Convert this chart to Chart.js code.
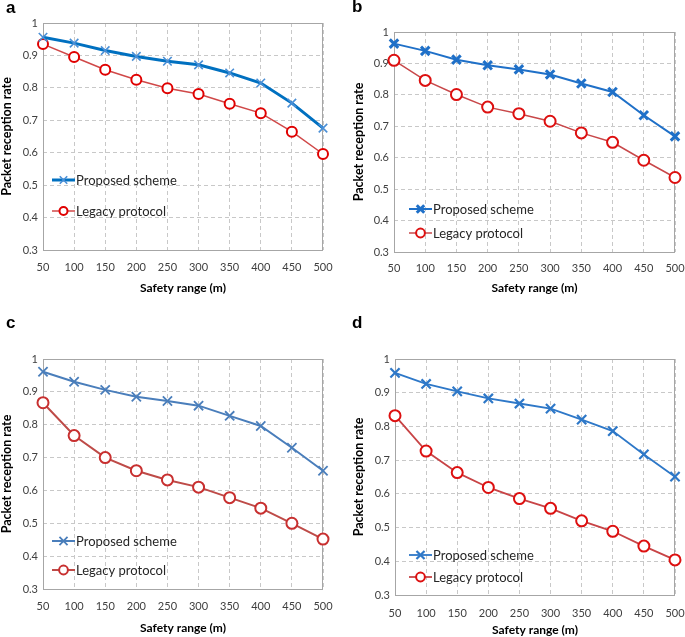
<!DOCTYPE html>
<html><head><meta charset="utf-8">
<script src="https://cdn.jsdelivr.net/npm/chart.js@4.4.0/dist/chart.umd.min.js"></script>
<style>
body{margin:0;width:685px;height:637px;background:#fff;position:relative;overflow:hidden}
.p{position:absolute}
.p canvas{display:block}
.lbl{position:absolute;font:bold 17px "Liberation Sans",Arial,sans-serif;line-height:17px;color:#000}
</style></head><body>
<div class="p" style="left:0px;top:0px"><canvas id="ca" width="342" height="318"></canvas></div>
<div class="p" style="left:342px;top:0px"><canvas id="cb" width="343" height="318"></canvas></div>
<div class="p" style="left:0px;top:318px"><canvas id="cc" width="342" height="319"></canvas></div>
<div class="p" style="left:342px;top:318px"><canvas id="cd" width="343" height="319"></canvas></div>
<div class="lbl" style="left:6px;top:-1px">a</div>
<div class="lbl" style="left:352px;top:-2px">b</div>
<div class="lbl" style="left:6px;top:314px">c</div>
<div class="lbl" style="left:352px;top:314px">d</div>
<script>
// ---- data ----
const xLabels = ['50','100','150','200','250','300','350','400','450','500'];
const yTickLabels = ['0.3','0.4','0.5','0.6','0.7','0.8','0.9','1'];
const seriesNames = ['Proposed scheme','Legacy protocol'];
const xTitle = 'Safety range (m)';
const yTitle = 'Packet reception rate';

const proposedA = [0.956,0.938,0.915,0.897,0.882,0.871,0.846,0.815,0.753,0.676];
const legacyA   = [0.935,0.895,0.856,0.825,0.799,0.781,0.751,0.722,0.665,0.596];
const proposedB = [0.963,0.940,0.912,0.894,0.881,0.865,0.836,0.809,0.735,0.668];
const legacyB   = [0.910,0.846,0.801,0.761,0.740,0.716,0.679,0.649,0.592,0.537];
const proposedC = [0.961,0.931,0.906,0.885,0.872,0.858,0.827,0.796,0.730,0.660];
const legacyC   = [0.867,0.767,0.700,0.660,0.632,0.610,0.578,0.546,0.500,0.452];
const proposedD = [0.959,0.926,0.904,0.883,0.868,0.853,0.820,0.786,0.717,0.651];
const legacyD   = [0.832,0.727,0.663,0.619,0.586,0.557,0.520,0.489,0.445,0.404];

// ---- layout / style ----
const FONT = 'Lato, "Liberation Sans", sans-serif';
const panels = [
  {id:'ca', w:342, h:318, L:43, R:323, T:23, B:250, yTitleC:7, xTickC:267, xTitleC:288,
   leg:{x:9, y1:-70, y2:-39},
   p:{data:proposedA, line:'#0070C0', mark:'#4A8FD6', lw:3, mw:1.6, r:6},
   l:{data:legacyA, line:'#D04848', mark:'#E00000', lw:1.5, mw:2, r:5}},
  {id:'cb', w:343, h:318, L:52, R:333, T:32, B:252, yTitleC:17, xTickC:268, xTitleC:288,
   leg:{x:15, y1:-43, y2:-19},
   p:{data:proposedB, line:'#1F70C8', mark:'#1F70C8', lw:2, mw:3, r:6},
   l:{data:legacyB, line:'#C8484A', mark:'#DD1010', lw:1.5, mw:2, r:5.5}},
  {id:'cc', w:342, h:319, L:43, R:323, T:41, B:271, yTitleC:7, xTickC:288, xTitleC:310,
   leg:{x:9, y1:-48, y2:-19},
   p:{data:proposedC, line:'#4A7EBB', mark:'#4A7EBB', lw:2, mw:1.8, r:6.5},
   l:{data:legacyC, line:'#BE4B48', mark:'#C83030', lw:2, mw:2, r:5.5}},
  {id:'cd', w:343, h:319, L:53, R:333, T:41, B:277, yTitleC:17, xTickC:295, xTitleC:312,
   leg:{x:14, y1:-40, y2:-18},
   p:{data:proposedD, line:'#2E78C8', mark:'#2E78C8', lw:1.8, mw:2.2, r:6.5},
   l:{data:legacyD, line:'#C84446', mark:'#DD1010', lw:1.8, mw:2, r:5.5}}
];

function drawMarker(ctx, style, x, y, r, color, bw){
  ctx.save();
  ctx.strokeStyle = color; ctx.lineWidth = bw;
  ctx.beginPath();
  if (style === 'crossRot'){
    const d = r*0.62;
    ctx.moveTo(x-d,y-d); ctx.lineTo(x+d,y+d);
    ctx.moveTo(x+d,y-d); ctx.lineTo(x-d,y+d);
    ctx.stroke();
  } else {
    ctx.fillStyle = '#fff';
    ctx.arc(x,y,r*0.8,0,Math.PI*2);
    ctx.fill(); ctx.stroke();
  }
  ctx.restore();
}

panels.forEach(P => {
  const frame = {
    id:'frame',
    beforeDatasetsDraw(chart){
      const a = chart.chartArea, ctx = chart.ctx;
      ctx.save();
      ctx.strokeStyle = '#A6A6A6'; ctx.lineWidth = 1;
      ctx.strokeRect(Math.round(a.left)+0.5, Math.round(a.top)+0.5,
                     Math.round(a.right-a.left)-1, Math.round(a.bottom-a.top));
      ctx.restore();
    }
  };
  const legend = {
    id:'insideLegend',
    afterDatasetsDraw(chart){
      const a = chart.chartArea, ctx = chart.ctx;
      const ys = [a.bottom + P.leg.y1, a.bottom + P.leg.y2];
      chart.data.datasets.forEach((ds,i) => {
        const x0 = a.left + P.leg.x, y = ys[i], len = 23;
        ctx.save();
        ctx.strokeStyle = ds.borderColor; ctx.lineWidth = ds.borderWidth;
        ctx.beginPath(); ctx.moveTo(x0,y); ctx.lineTo(x0+len,y); ctx.stroke();
        ctx.restore();
        drawMarker(ctx, ds.pointStyle, x0+len/2, y, ds.pointRadius, ds.pointBorderColor, ds.pointBorderWidth);
        ctx.save();
        ctx.fillStyle = '#262626';
        ctx.font = '13px ' + FONT;
        ctx.textBaseline = 'middle'; ctx.textAlign = 'left';
        ctx.fillText(ds.label, x0+len+1, y+0.5);
        ctx.restore();
      });
    }
  };
  const mkDs = (label, s, style) => ({
    label, data:s.data, borderColor:s.line, borderWidth:s.lw,
    pointStyle:style, pointRadius:s.r, pointHoverRadius:s.r,
    pointBorderColor:s.mark, pointBorderWidth:s.mw,
    pointBackgroundColor: style==='circle' ? '#ffffff' : s.mark,
    tension:0, fill:false
  });
  new Chart(document.getElementById(P.id), {
    type:'line',
    data:{ labels:xLabels, datasets:[ mkDs(seriesNames[0], P.p, 'crossRot'), mkDs(seriesNames[1], P.l, 'circle') ] },
    options:{
      responsive:false, animation:false, devicePixelRatio:1,
      layout:{padding:{left:0, top:P.T, right:P.w-P.R, bottom:0}},
      plugins:{legend:{display:false}, tooltip:{enabled:false}},
      scales:{
        x:{
          type:'category', offset:false,
          grid:{color:'#C8C8C8', lineWidth:1, drawTicks:false},
          border:{display:false, dash:[4,3]},
          ticks:{padding: (P.xTickC - P.B) - 6.6, color:'#404040', font:{family:FONT, size:11}, maxRotation:0, autoSkip:false},
          title:{display:true, text:xTitle, color:'#000', font:{family:FONT, size:12, weight:'bold'},
                 padding:{top:0, bottom: P.h - P.xTitleC - 7.2}},
          afterFit(s){ s.height = P.h - P.B; s.paddingLeft = 0; s.paddingRight = 0; }
        },
        y:{
          min:0.3, max:1,
          afterBuildTicks(s){ s.ticks = yTickLabels.map(t => ({value: parseFloat(t)})); },
          grid:{color:'#C8C8C8', lineWidth:1, drawTicks:false},
          border:{display:false, dash:[4,3]},
          ticks:{padding:5, color:'#404040', font:{family:FONT, size:11},
                 callback:(v,i) => yTickLabels[i]},
          title:{display:true, text:yTitle, color:'#000', font:{family:FONT, size:12.5, weight:'bold'},
                 padding:{top: P.yTitleC - 7.5, bottom:0}},
          afterFit(s){ s.width = P.L; s.paddingTop = 0; s.paddingBottom = 0; }
        }
      }
    },
    plugins:[frame, legend]
  });
});
</script>
</body></html>
